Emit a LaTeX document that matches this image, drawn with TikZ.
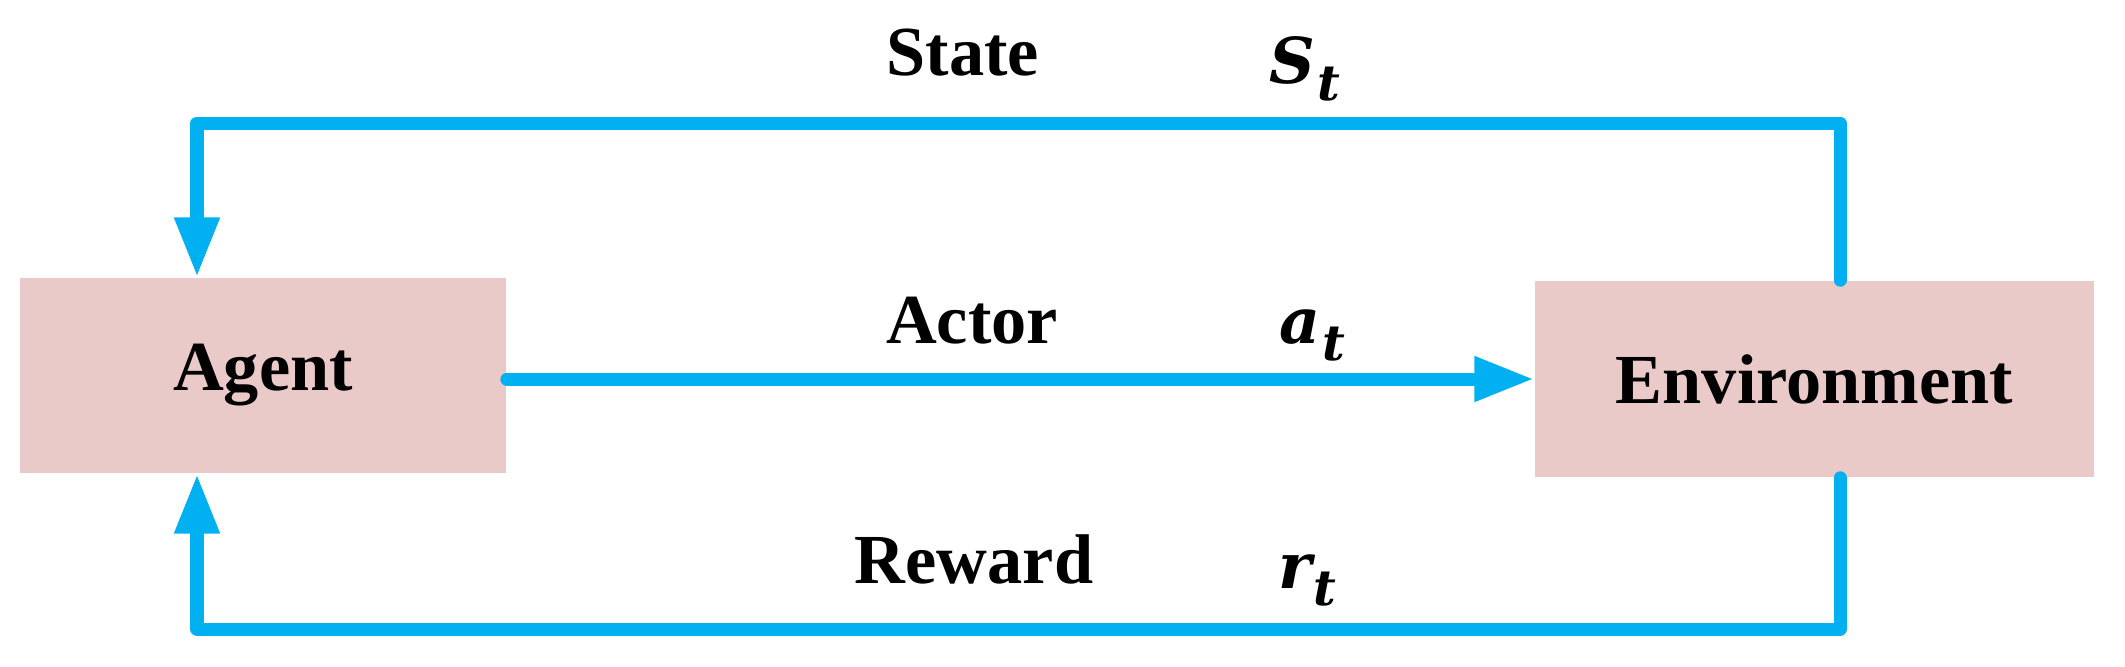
\documentclass[tikz,border=0pt]{standalone}
\usepackage{fontspec}
\setmainfont{Liberation Serif}
\newfontfamily\symfont{DejaVu Serif}
\usetikzlibrary{arrows.meta}
\definecolor{flowblue}{RGB}{0,176,240}
\definecolor{boxpink}{RGB}{234,202,200}
\newcommand{\symsub}[2]{#1\kern0.03em\raisebox{-0.28em}{\fontsize{14}{16}\selectfont #2}}
\tikzset{
  box/.style={fill=boxpink, draw=none, inner sep=0pt, font=\fontsize{20}{24}\selectfont\bfseries},
  flow/.style={draw=flowblue, line width=3.7pt, line cap=round, line join=round},
  tip/.style={-{Triangle[length=17pt,width=12pt]}},
  lbl/.style={anchor=base, inner sep=0pt, font=\fontsize{20}{24}\selectfont\bfseries},
  sym/.style={anchor=base, inner sep=0pt, font=\symfont\fontsize{18}{21}\selectfont\bfseries\itshape},
}
\begin{document}
\begin{tikzpicture}[x=0.01cm,y=-0.01cm]
\useasboundingbox (0,0) rectangle (2125,666);
\node[box, minimum width=4.86cm, minimum height=1.95cm] (agent) at (263,375.5) {Agent};
\node[box, minimum width=5.59cm, minimum height=1.96cm] (env) at (1814.5,379) {Environment};
\coordinate (tr) at (1840,123);
\coordinate (tl) at (197,123);
\coordinate (br) at (1840,629);
\coordinate (bl) at (197,629);
\draw[flow,tip] (env.north -| tr) -- (tr) -- (tl) -- (tl |- agent.north);
\draw[flow,tip] (env.south -| br) -- (br) -- (bl) -- (bl |- agent.south);
\draw[flow,tip] (agent.east |- env.west) -- (env.west);
\node[lbl] (state) at (963,75) {State};
\node[sym] (st) at (1305,83) {\symsub{S}{t}};
\node[lbl] (actor) at (972,343) {Actor};
\node[sym] (at) at (1312,343) {\symsub{a}{t}};
\node[lbl] (reward) at (974,583) {Reward};
\node[sym] (rt) at (1307,588) {\symsub{r}{t}};
\end{tikzpicture}
\end{document}
